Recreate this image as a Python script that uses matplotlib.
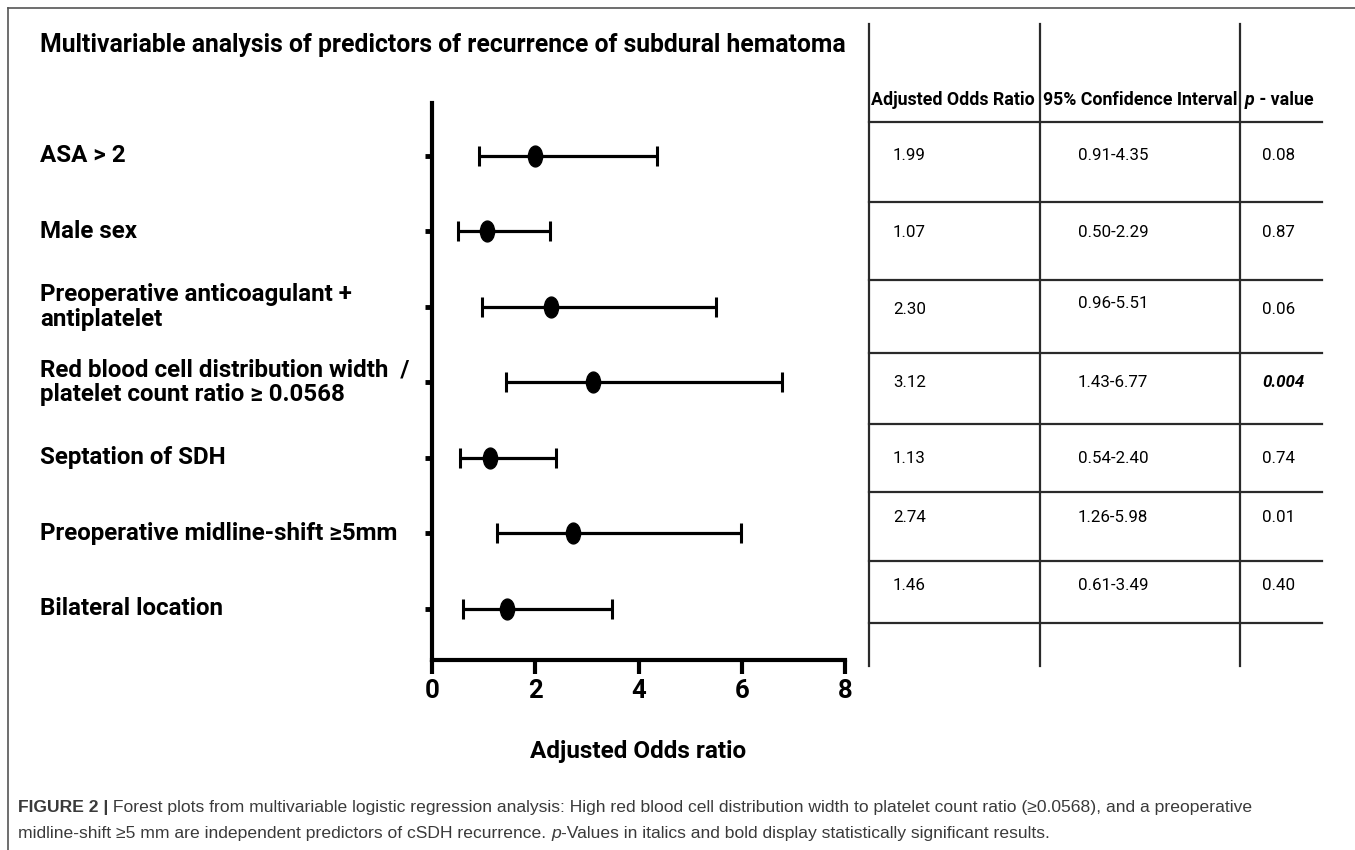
import numpy as np
import matplotlib.pyplot as plt
from matplotlib.path import Path
from matplotlib.transforms import Affine2D

# data
labels = ['ASA > 2', 'Male sex', 'Preoperative anticoagulant +\nantiplatelet',
          'Red blood cell distribution width  /\nplatelet count ratio \u2265 0.0568',
          'Septation of SDH', 'Preoperative midline-shift \u22655mm', 'Bilateral location']
odds = [1.99, 1.07, 2.30, 3.12, 1.13, 2.74, 1.46]
ci_low = [0.91, 0.50, 0.96, 1.43, 0.54, 1.26, 0.61]
ci_high = [4.35, 2.29, 5.51, 6.77, 2.40, 5.98, 3.49]
p_values = ['0.08', '0.87', '0.06', '0.004', '0.74', '0.01', '0.40']
significant = [False, False, False, True, False, False, False]
x_ticks = [0, 2, 4, 6, 8]

W, H = 1355, 850
fig = plt.figure(figsize=(W / 100, H / 100), dpi=100)

# pixel-coordinate overlay for frame, title, table, caption
bg = fig.add_axes([0, 0, 1, 1])
bg.set_xlim(0, W)
bg.set_ylim(H, 0)
bg.axis('off')

bg.plot([8, W], [8, 8], color='#555555', lw=1.2)
bg.plot([8, 8], [8, H], color='#555555', lw=1.2)

bold = dict(family=['Roboto', 'DejaVu Sans'], fontweight='bold', color='black')
reg = dict(family=['Roboto', 'DejaVu Sans'], color='black')
narrow = dict(family=['Roboto', 'DejaVu Sans'], fontstretch='condensed', fontweight='bold')

bg.text(40, 45, 'Multivariable analysis of predictors of recurrence of subdural hematoma',
        fontsize=17.8, va='center', ha='left', **bold)

# forest plot
ax = fig.add_axes([432 / W, 1 - 660 / H, (845 - 432) / W, (660 - 103) / H])
rows = np.arange(len(labels))
odds_a = np.array(odds)
err = np.vstack([odds_a - np.array(ci_low), np.array(ci_high) - odds_a])
ellipse = Path.unit_circle().transformed(Affine2D().scale(0.68, 1.0))
ax.errorbar(odds_a, rows, xerr=err, fmt='none', ecolor='black', elinewidth=2.3,
            capsize=7.5, capthick=2.2)
ax.plot(odds_a, rows, linestyle='none', marker=ellipse, markersize=15,
        color='black', zorder=3)
ax.set_xlim(0, 8)
ax.set_ylim(6.68, -0.70)
ax.spines['top'].set_visible(False)
ax.spines['right'].set_visible(False)
ax.spines['left'].set_linewidth(3)
ax.spines['bottom'].set_linewidth(3)
ax.set_xticks(x_ticks)
ax.set_xticklabels([str(t) for t in x_ticks], fontsize=18.5, **narrow)
ax.tick_params(axis='x', length=10, width=3, pad=4)
ax.set_yticks(rows)
ax.set_yticklabels([])
ax.tick_params(axis='y', length=5, width=3.5)
ax.set_xlabel('Adjusted Odds ratio', fontsize=17.5, labelpad=26, **narrow)
ax.patch.set_alpha(0)

for r, lab in zip(rows, labels):
    ax.annotate(lab, xy=(40 / W, r), xycoords=('figure fraction', 'data'),
                ha='left', va='center', fontsize=17.4, linespacing=1.1, **bold)

# table
col_x = [869, 1040, 1240]
for x in col_x:
    bg.plot([x, x], [24, 666], color='#2a2a2a', lw=1.6)
h_lines = [122, 202, 280, 353, 424, 492, 561, 623]
for y in h_lines:
    bg.plot([869, 1322], [y, y], color='#2a2a2a', lw=1.6)

hs = 12.8
bg.text(871, 100, 'Adjusted Odds Ratio', fontsize=hs, va='center', ha='left', **bold)
bg.text(1043, 100, '95% Confidence Interval', fontsize=hs, va='center', ha='left', **bold)
tp = bg.text(1245, 100, 'p', fontsize=hs, va='center', ha='left', style='italic', **bold)
bg.annotate(' - value', xy=(1, 0.5), xycoords=tp, va='center', ha='left', fontsize=hs, **bold)

ds = 12.2
row_y = [155, 232, 309, 382, 458, 518, 585]
ci_y = [155, 232, 303, 382, 458, 518, 585]
for i in range(len(odds)):
    bg.text(893, row_y[i], f'{odds[i]:.2f}', fontsize=ds, va='center', ha='left', **reg)
    bg.text(1078, ci_y[i], f'{ci_low[i]:.2f}-{ci_high[i]:.2f}', fontsize=ds,
            va='center', ha='left', **reg)
    if significant[i]:
        bg.text(1262, row_y[i], p_values[i], fontsize=ds, va='center', ha='left',
                style='italic', **bold)
    else:
        bg.text(1262, row_y[i], p_values[i], fontsize=ds, va='center', ha='left', **reg)

# caption
cap = dict(family=['Liberation Sans', 'DejaVu Sans'], fontsize=12.6, color='#3a3a3a')
t1 = bg.text(18, 812, 'FIGURE 2 |', va='baseline', ha='left', fontweight='bold', **cap)
bg.annotate(' Forest plots from multivariable logistic regression analysis: High red blood cell '
            'distribution width to platelet count ratio (\u22650.0568), and a preoperative',
            xy=(1, 0), xycoords=t1, va='bottom', ha='left', **cap)
t2 = bg.text(18, 838, 'midline-shift \u22655 mm are independent predictors of cSDH recurrence. ',
             va='baseline', ha='left', **cap)
t3 = bg.annotate('p', xy=(1, 0), xycoords=t2, va='bottom', ha='left', style='italic', **cap)
bg.annotate('-Values in italics and bold display statistically significant results.',
            xy=(1, 0), xycoords=t3, va='bottom', ha='left', **cap)

fig.savefig('out.png', dpi=100)
